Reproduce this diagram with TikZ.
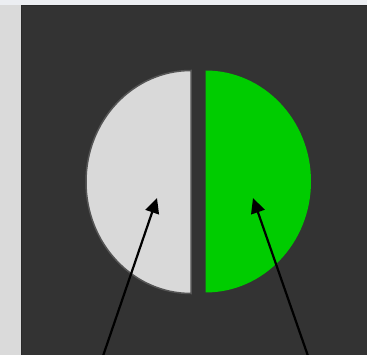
\documentclass[tikz,border=0pt]{standalone}
\usetikzlibrary{arrows.meta}
\definecolor{bgdark}{HTML}{333333}
\definecolor{edgedark}{HTML}{2A2A2A}
\definecolor{halfgray}{HTML}{D9D9D9}
\definecolor{halfgreen}{HTML}{00CC00}
\definecolor{outl}{HTML}{555555}
\definecolor{stripl}{HTML}{DADADA}
\definecolor{stript}{HTML}{ECEEF2}
\tikzset{
  pointer/.style={draw=black, line width=2.2pt, -{Triangle[length=15pt,width=14pt]}},
}
\begin{document}
\begin{tikzpicture}[x=1pt,y=-1pt]
\useasboundingbox (0,0) rectangle (367,355);
\fill[stript] (0,0) rectangle (367,5);
\fill[stripl] (0,5) rectangle (21,355);
\fill[bgdark] (21,5) rectangle (367,355);
\draw[edgedark, line width=1pt] (21.5,355) -- (21.5,5.5) -- (367,5.5);
% left half
\filldraw[fill=halfgray, draw=outl, line width=1.5pt] (191,70.5) arc[start angle=-90, end angle=-270, x radius=105, y radius=111.5] -- cycle;
% right half
\fill[halfgreen] (205.5,70.5) arc[start angle=-90, end angle=90, x radius=105.5, y radius=111] -- cycle;
\coordinate (lt) at (157,198);
\coordinate (lb) at (103,356);
\coordinate (rt) at (253,198);
\coordinate (rb) at (308,356);
\draw[pointer] (lb) -- (lt);
\draw[pointer] (rb) -- (rt);
\end{tikzpicture}
\end{document}
